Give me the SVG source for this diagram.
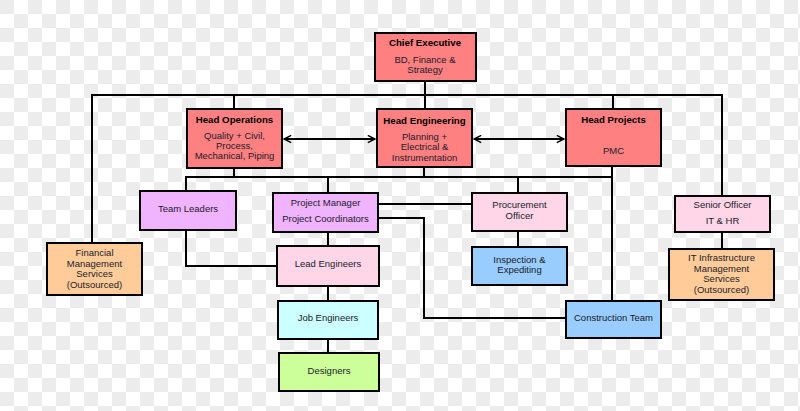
<svg xmlns="http://www.w3.org/2000/svg" width="800" height="411" viewBox="0 0 800 411">
<defs>
<pattern id="chk" width="28" height="28" patternUnits="userSpaceOnUse">
<rect width="28" height="28" fill="#ffffff"/>
<rect width="14" height="14" fill="#ececec"/>
<rect x="14" y="14" width="14" height="14" fill="#ececec"/>
</pattern>
<marker id="arr" viewBox="0 0 10 10" refX="9" refY="5" markerWidth="9" markerHeight="9" markerUnits="userSpaceOnUse" orient="auto-start-reverse">
<path d="M1,1 L9,5 L1,9" fill="none" stroke="#000" stroke-width="1.6"/>
</marker>
<style>
.b{stroke:#000;stroke-width:2}
.red{fill:#ff8080}
.pur{fill:#f0b4ff}
.pink{fill:#ffd6e8}
.org{fill:#ffcc99}
.blue{fill:#99ccff}
.cyan{fill:#ccffff}
.grn{fill:#ccff99}
text{font-family:"Liberation Sans",Arial,sans-serif;font-size:9.5px;fill:#1a1a2a;text-anchor:middle}
.t{font-weight:bold;font-size:9.7px;fill:#000}
.c{fill:none;stroke:#000;stroke-width:2}
</style>
</defs>
<rect width="800" height="411" fill="url(#chk)"/>
<g id="connectors">
<path class="c" d="M425,81 V109"/>
<path class="c" d="M92,243 V95 H722 V196"/>
<path class="c" d="M234,95 V109"/>
<path class="c" d="M613,95 V109"/>
<path class="c" d="M284,139 H375" marker-start="url(#arr)" marker-end="url(#arr)"/>
<path class="c" d="M474,139 H564" marker-start="url(#arr)" marker-end="url(#arr)"/>
<path class="c" d="M234,168 V177"/>
<path class="c" d="M424,167 V177"/>
<path class="c" d="M612,166 V301"/>
<path class="c" d="M186,191 V177 H612"/>
<path class="c" d="M328,177 V193"/>
<path class="c" d="M518,177 V193"/>
<path class="c" d="M186,230 V266 H277"/>
<path class="c" d="M328,232 V246"/>
<path class="c" d="M328,286 V301"/>
<path class="c" d="M328,339 V353"/>
<path class="c" d="M378,204 H472"/>
<path class="c" d="M378,218 H424 V318 H566"/>
<path class="c" d="M518,231 V247"/>
<path class="c" d="M722,232 V249"/>
</g>
<g id="chief">
<rect class="b red" x="375" y="33" width="101" height="48"/>
<text class="t" x="425" y="45.5">Chief Executive</text>
<text x="425" y="62.5">BD, Finance &amp;</text>
<text x="425" y="73">Strategy</text>
</g>
<g id="head-ops">
<rect class="b red" x="187" y="109" width="95" height="59"/>
<text class="t" x="234.5" y="122.5">Head Operations</text>
<text x="234.5" y="138.5">Quality + Civil,</text>
<text x="234.5" y="148.5">Process,</text>
<text x="234.5" y="159">Mechanical, Piping</text>
</g>
<g id="head-eng">
<rect class="b red" x="377" y="109" width="95" height="58"/>
<text class="t" x="424.5" y="123.5">Head Engineering</text>
<text x="424.5" y="139.5">Planning +</text>
<text x="424.5" y="149.5">Electrical &amp;</text>
<text x="424.5" y="160.5">Instrumentation</text>
</g>
<g id="head-projects">
<rect class="b red" x="566" y="109" width="95" height="57"/>
<text class="t" x="613.5" y="122.5">Head Projects</text>
<text x="613.5" y="153.5">PMC</text>
</g>
<g id="team-leaders">
<rect class="b pur" x="140" y="191" width="96" height="39"/>
<text x="188" y="211.5">Team Leaders</text>
</g>
<g id="project-manager">
<rect class="b pur" x="273" y="193" width="105" height="39"/>
<text x="325.5" y="205.5">Project Manager</text>
<text x="325.5" y="221.5">Project Coordinators</text>
</g>
<g id="procurement">
<rect class="b pink" x="472" y="193" width="95" height="38"/>
<text x="519.5" y="207.5">Procurement</text>
<text x="519.5" y="218.5">Officer</text>
</g>
<g id="senior-officer">
<rect class="b pink" x="675" y="196" width="95" height="36"/>
<text x="722.5" y="207.5">Senior Officer</text>
<text x="722.5" y="223.5">IT &amp; HR</text>
</g>
<g id="financial">
<rect class="b org" x="47" y="243" width="95" height="52"/>
<text x="94.5" y="255.5">Financial</text>
<text x="94.5" y="266.5">Management</text>
<text x="94.5" y="276.5">Services</text>
<text x="94.5" y="287.5">(Outsourced)</text>
</g>
<g id="lead-engineers">
<rect class="b pink" x="277" y="246" width="102" height="40"/>
<text x="328" y="266.5">Lead Engineers</text>
</g>
<g id="inspection">
<rect class="b blue" x="472" y="247" width="95" height="38"/>
<text x="519.5" y="262.5">Inspection &amp;</text>
<text x="519.5" y="272.5">Expediting</text>
</g>
<g id="it-infra">
<rect class="b org" x="669" y="249" width="105" height="51"/>
<text x="721.5" y="260.5">IT Infrastructure</text>
<text x="721.5" y="271.5">Management</text>
<text x="721.5" y="282">Services</text>
<text x="721.5" y="292.5">(Outsourced)</text>
</g>
<g id="job-engineers">
<rect class="b cyan" x="278" y="301" width="100" height="38"/>
<text x="328" y="320.5">Job Engineers</text>
</g>
<g id="construction-team">
<rect class="b blue" x="566" y="301" width="95" height="37"/>
<text x="613.5" y="320.5">Construction Team</text>
</g>
<g id="designers">
<rect class="b grn" x="279" y="353" width="100" height="38"/>
<text x="329" y="373.5">Designers</text>
</g>
</svg>
